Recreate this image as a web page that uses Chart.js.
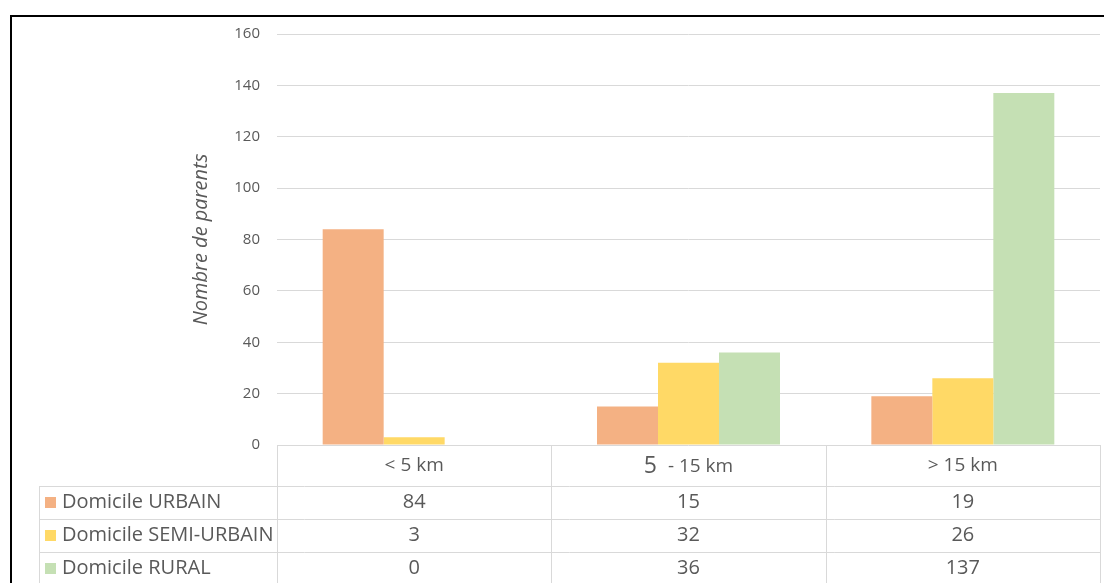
<!DOCTYPE html>
<html><head><meta charset="utf-8">
<script src="https://cdn.jsdelivr.net/npm/chart.js@4/dist/chart.umd.min.js"></script>
<style>html,body{margin:0;padding:0;background:#fff;overflow:hidden;} #wrap{position:relative;width:1104px;height:583px;}</style>
</head><body><div id="wrap"><canvas id="c" width="1104" height="583"></canvas></div>
<script>
const categories = ["< 5 km", "5 - 15 km", "> 15 km"];
const seriesNames = ["Domicile URBAIN", "Domicile SEMI-URBAIN", "Domicile RURAL"];
const urbain = [84, 15, 19];
const semiUrbain = [3, 32, 26];
const rural = [0, 36, 137];
const yTickMin = 0, yTickMax = 160, yTickStep = 20;
const yTitle = "Nombre de parents";
const seriesColors = ["#F4B183", "#FFD966", "#C5E0B4"];
const seriesValues = [urbain, semiUrbain, rural];

const TEXT = "#595959";
const GRID = "#d9d9d9";
const FONT = "'Open Sans', 'Noto Sans', sans-serif";

function drawHeader(ctx, label, cx, cy) {
  const m = /^(\d+) (.*)$/.exec(label);
  if (!m) {
    ctx.font = "19px " + FONT;
    ctx.textAlign = 'center';
    ctx.fillText(label, cx, cy);
    return;
  }
  // leading number drawn slightly larger, as in the original
  const big = "23px " + FONT, small = "19px " + FONT;
  ctx.font = big; const w1 = ctx.measureText(m[1] + " ").width;
  ctx.font = small; const w2 = ctx.measureText(" " + m[2]).width;
  let x = cx - (w1 + w2) / 2;
  ctx.textAlign = 'left';
  ctx.font = big; ctx.fillText(m[1] + " ", x, cy);
  ctx.font = small; ctx.fillText(" " + m[2], x + w1, cy + 1);
}

const tablePlugin = {
  id: 'dataTable',
  afterDraw(chart) {
    const ctx = chart.ctx;
    const ca = chart.chartArea;
    const n = categories.length;
    const colW = (ca.right - ca.left) / n;
    const H = chart.height;
    const headerBottom = ca.bottom + 41;
    const rowH = 33;
    const labelLeft = 39.5;
    ctx.save();
    // frame
    ctx.fillStyle = '#000';
    ctx.fillRect(10, 15, chart.width - 10, 2);
    ctx.fillRect(10, 15, 2, H - 15);
    // grid lines
    ctx.strokeStyle = GRID;
    ctx.lineWidth = 1;
    ctx.beginPath();
    for (let i = 0; i <= n; i++) {
      const x = Math.round(ca.left + i * colW) + 0.5;
      ctx.moveTo(x, ca.bottom);
      ctx.lineTo(x, H);
    }
    ctx.moveTo(labelLeft, headerBottom);
    ctx.lineTo(labelLeft, H);
    for (let r = 0; r < seriesNames.length; r++) {
      const y = Math.round(headerBottom + r * rowH) + 0.5;
      ctx.moveTo(labelLeft, y);
      ctx.lineTo(ca.right, y);
    }
    ctx.stroke();
    // headers
    ctx.fillStyle = TEXT;
    ctx.textBaseline = 'middle';
    const xs = chart.scales.x;
    for (let i = 0; i < n; i++) {
      drawHeader(ctx, categories[i], xs.getPixelForValue(i), ca.bottom + 21);
    }
    // rows
    ctx.font = "20px " + FONT;
    for (let r = 0; r < seriesNames.length; r++) {
      const cy = headerBottom + r * rowH + rowH / 2;
      ctx.fillStyle = seriesColors[r];
      ctx.fillRect(45, Math.round(cy - 6), 11, 11);
      ctx.fillStyle = TEXT;
      ctx.textAlign = 'left';
      ctx.fillText(seriesNames[r], 62, cy);
      ctx.textAlign = 'center';
      for (let i = 0; i < n; i++) {
        ctx.fillText(String(seriesValues[r][i]), xs.getPixelForValue(i), cy);
      }
    }
    ctx.restore();
  }
};

new Chart(document.getElementById('c'), {
  type: 'bar',
  data: {
    labels: categories,
    datasets: seriesNames.map((name, k) => ({
      label: name,
      data: seriesValues[k],
      backgroundColor: seriesColors[k],
      borderWidth: 0,
      barPercentage: 1,
      categoryPercentage: 0.667
    }))
  },
  options: {
    responsive: false,
    animation: false,
    devicePixelRatio: 1,
    layout: { padding: { left: 0, right: 4, top: 34, bottom: 138 } },
    plugins: { legend: { display: false }, tooltip: { enabled: false } },
    scales: {
      x: { display: false },
      y: {
        min: yTickMin, max: yTickMax,
        ticks: { stepSize: yTickStep, color: TEXT, font: { family: FONT, size: 15 }, padding: 17 },
        grid: { color: GRID, drawTicks: false, lineWidth: 1 },
        border: { display: false },
        title: { display: true, text: yTitle, color: TEXT, font: { family: FONT, size: 20, style: 'italic' }, padding: { top: 189, bottom: 0 } },
        afterFit(scale) { scale.width = 277; }
      }
    }
  },
  plugins: [tablePlugin]
});
</script></body></html>
